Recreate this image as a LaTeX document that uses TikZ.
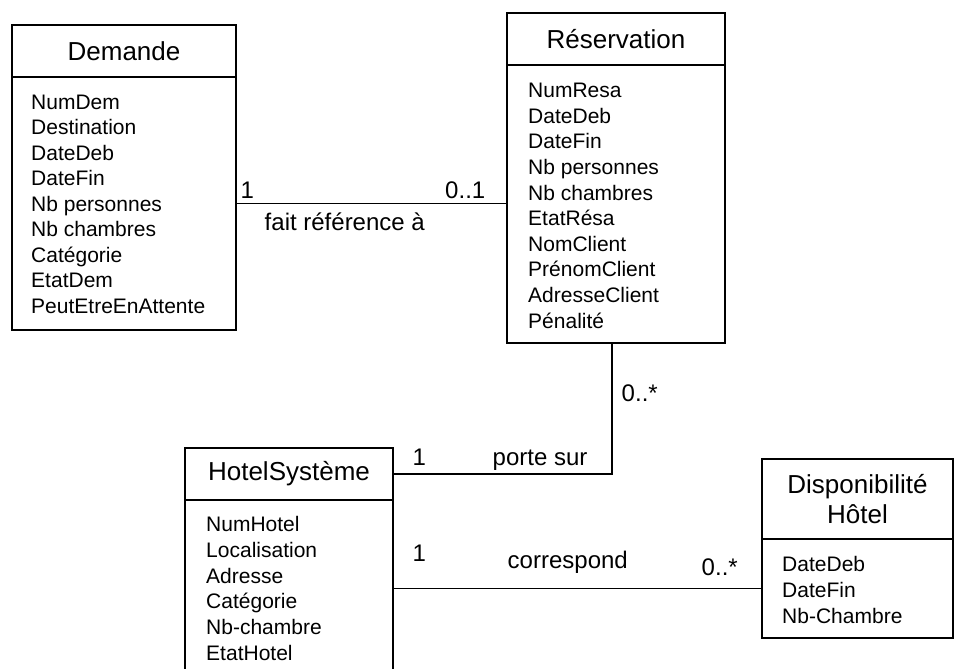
\documentclass[tikz,border=0pt]{standalone}
\usepackage{fontspec}
\setmainfont{Liberation Sans}
\usetikzlibrary{positioning}

\begin{document}
\begin{tikzpicture}[
    x=0.75pt, y=-0.75pt,
    line width=1.1pt,
    head/.style = {
        rectangle, draw, outer sep=0pt, inner sep=0pt,
        font=\fontsize{19.5}{22.5}\selectfont, align=center
    },
    body/.style = {rectangle, draw, outer sep=0pt, inner sep=0pt},
    attr/.style = {anchor=base west, inner sep=0pt, font=\fontsize{15.75}{19}\selectfont},
    lbl/.style  = {inner sep=0pt, font=\fontsize{18}{21}\selectfont}
]
\clip (0,0) rectangle (956,668);

%% Class Nodes
\node[head, minimum width=168pt, minimum height=39pt] (dem) at (124,51) {Demande};
\node[body, minimum width=168pt, minimum height=189.75pt, below=0pt of dem] (demA) {};

\node[head, minimum width=163.5pt, minimum height=39pt] (res) at (616,39) {Réservation};
\node[body, minimum width=163.5pt, minimum height=208.5pt, below=0pt of res] (resA) {};

\node[head, minimum width=156pt, minimum height=39pt] (hot) at (289,474) {HotelSystème};
\node[body, minimum width=156pt, minimum height=172.5pt, below=0pt of hot] (hotA) {};

\node[head, minimum width=143.25pt, minimum height=60pt] (dis) at (857.5,499) {Disponibilité\\Hôtel};
\node[body, minimum width=143.25pt, minimum height=74.25pt, below=0pt of dis] (disA) {};

%% Attributes
\foreach \t [count=\i from 0] in {NumDem, Destination, DateDeb, DateFin, Nb personnes,
    Nb chambres, Catégorie, EtatDem, PeutEtreEnAttente}
    \node[attr] (demT\i) at (30.5,{109.3+25.5*\i}) {\t};
\foreach \t [count=\i from 0] in {NumResa, DateDeb, DateFin, Nb personnes, Nb chambres,
    EtatRésa, NomClient, PrénomClient, AdresseClient, Pénalité}
    \node[attr] (resT\i) at (527.5,{97.7+25.6*\i}) {\t};
\foreach \t [count=\i from 0] in {NumHotel, Localisation, Adresse, Catégorie, Nb-chambre, EtatHotel}
    \node[attr] (hotT\i) at (205.5,{531.7+25.7*\i}) {\t};
\foreach \t [count=\i from 0] in {DateDeb, DateFin, Nb-Chambre}
    \node[attr] (disT\i) at (781.5,{571.7+25.8*\i}) {\t};

%% Associations
\draw (demA.east) -- (demA.east -| resA.west);
\draw ([xshift=-3pt]resA.south) |- (hot.east);
\draw (disA.west -| hotA.east) -- (disA.west);

%% Labels
\node[lbl, anchor=base west] (m1) at (240,198) {1};
\node[lbl, anchor=base east] (m2) at (486,198) {0..1};
\node[lbl, anchor=base west] (r1) at (264,230) {fait référence à};

\node[lbl, anchor=base west] (m3) at (621,401) {0..*};
\node[lbl, anchor=base west] (m4) at (412,465) {1};
\node[lbl, anchor=base west] (r2) at (492,465) {porte sur};

\node[lbl, anchor=base west] (m5) at (412,561) {1};
\node[lbl, anchor=base west] (r3) at (507,568) {correspond};
\node[lbl, anchor=base west] (m6) at (701,575) {0..*};

\end{tikzpicture}
\end{document}
